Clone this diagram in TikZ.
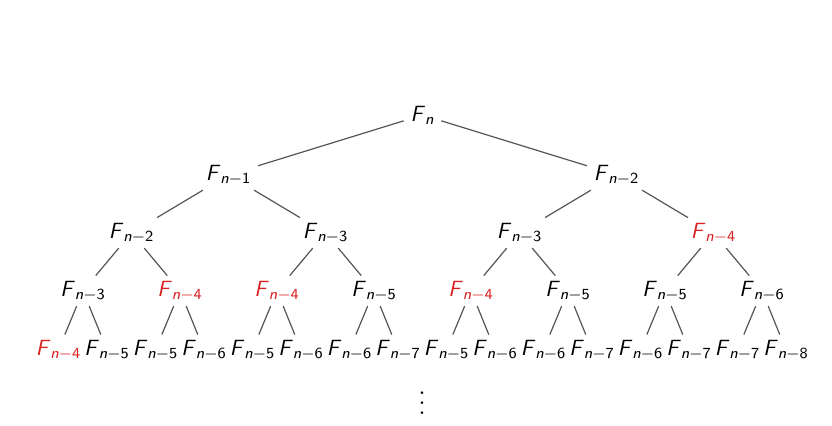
\documentclass[tikz,border=0pt]{standalone}
\usepackage{amsmath}
\definecolor{fibred}{RGB}{218,32,32}
\definecolor{edgegray}{RGB}{85,85,85}
\newcommand\Fsub[1]{\textsf{\textit{F}}$_{\textsf{\textit{n}}-\textsf{#1}}$}
\newcommand\Froot{\textsf{\textit{F}}$_{\textsf{\textit{n}}}$}
\begin{document}
\begin{tikzpicture}[x=0.5pt,y=-0.5pt,
  fib/.style={anchor=base,inner xsep=3.2pt,inner ysep=2.4pt,font=\fontsize{11}{13}\selectfont},
  hot/.style={fib,text=fibred},
  edge/.style={draw=edgegray,line width=0.6pt}]
\useasboundingbox (0,0) rectangle (832,425);
% root
\node[fib] (r) at (422.5,121) {\Froot};
% level 1
\node[fib] (a1) at (228.5,180) {\Fsub{1}};
\node[fib] (a2) at (616.5,180) {\Fsub{2}};
% level 2
\node[fib] (b1) at (131.5,238) {\Fsub{2}};
\node[fib] (b2) at (325.5,238) {\Fsub{3}};
\node[fib] (b3) at (519.5,238) {\Fsub{3}};
\node[hot] (b4) at (713.5,238) {\Fsub{4}};
% level 3
\node[fib] (c1) at (83,296) {\Fsub{3}};
\node[hot] (c2) at (180,296) {\Fsub{4}};
\node[hot] (c3) at (277,296) {\Fsub{4}};
\node[fib] (c4) at (374,296) {\Fsub{5}};
\node[hot] (c5) at (471,296) {\Fsub{4}};
\node[fib] (c6) at (568,296) {\Fsub{5}};
\node[fib] (c7) at (665,296) {\Fsub{5}};
\node[fib] (c8) at (762,296) {\Fsub{6}};
% level 4
\node[hot] (d1)  at (58.5,355)  {\Fsub{4}};
\node[fib] (d2)  at (107,355)   {\Fsub{5}};
\node[fib] (d3)  at (155.5,355) {\Fsub{5}};
\node[fib] (d4)  at (204,355)   {\Fsub{6}};
\node[fib] (d5)  at (252.5,355) {\Fsub{5}};
\node[fib] (d6)  at (301,355)   {\Fsub{6}};
\node[fib] (d7)  at (349.5,355) {\Fsub{6}};
\node[fib] (d8)  at (398,355)   {\Fsub{7}};
\node[fib] (d9)  at (446.5,355) {\Fsub{5}};
\node[fib] (d10) at (495,355)   {\Fsub{6}};
\node[fib] (d11) at (543.5,355) {\Fsub{6}};
\node[fib] (d12) at (592,355)   {\Fsub{7}};
\node[fib] (d13) at (640.5,355) {\Fsub{6}};
\node[fib] (d14) at (689,355)   {\Fsub{7}};
\node[fib] (d15) at (737.5,355) {\Fsub{7}};
\node[fib] (d16) at (786,355)   {\Fsub{8}};
% dots
\node[scale=1.25] (dots) at (422,396) {$\vdots$};
% edges
\draw[edge] (r) -- (a1);
\draw[edge] (r) -- (a2);
\draw[edge] (a1) -- (b1);
\draw[edge] (a1) -- (b2);
\draw[edge] (a2) -- (b3);
\draw[edge] (a2) -- (b4);
\draw[edge] (b1) -- (c1);
\draw[edge] (b1) -- (c2);
\draw[edge] (b2) -- (c3);
\draw[edge] (b2) -- (c4);
\draw[edge] (b3) -- (c5);
\draw[edge] (b3) -- (c6);
\draw[edge] (b4) -- (c7);
\draw[edge] (b4) -- (c8);
\draw[edge] (c1) -- (d1);
\draw[edge] (c1) -- (d2);
\draw[edge] (c2) -- (d3);
\draw[edge] (c2) -- (d4);
\draw[edge] (c3) -- (d5);
\draw[edge] (c3) -- (d6);
\draw[edge] (c4) -- (d7);
\draw[edge] (c4) -- (d8);
\draw[edge] (c5) -- (d9);
\draw[edge] (c5) -- (d10);
\draw[edge] (c6) -- (d11);
\draw[edge] (c6) -- (d12);
\draw[edge] (c7) -- (d13);
\draw[edge] (c7) -- (d14);
\draw[edge] (c8) -- (d15);
\draw[edge] (c8) -- (d16);
\end{tikzpicture}
\end{document}
